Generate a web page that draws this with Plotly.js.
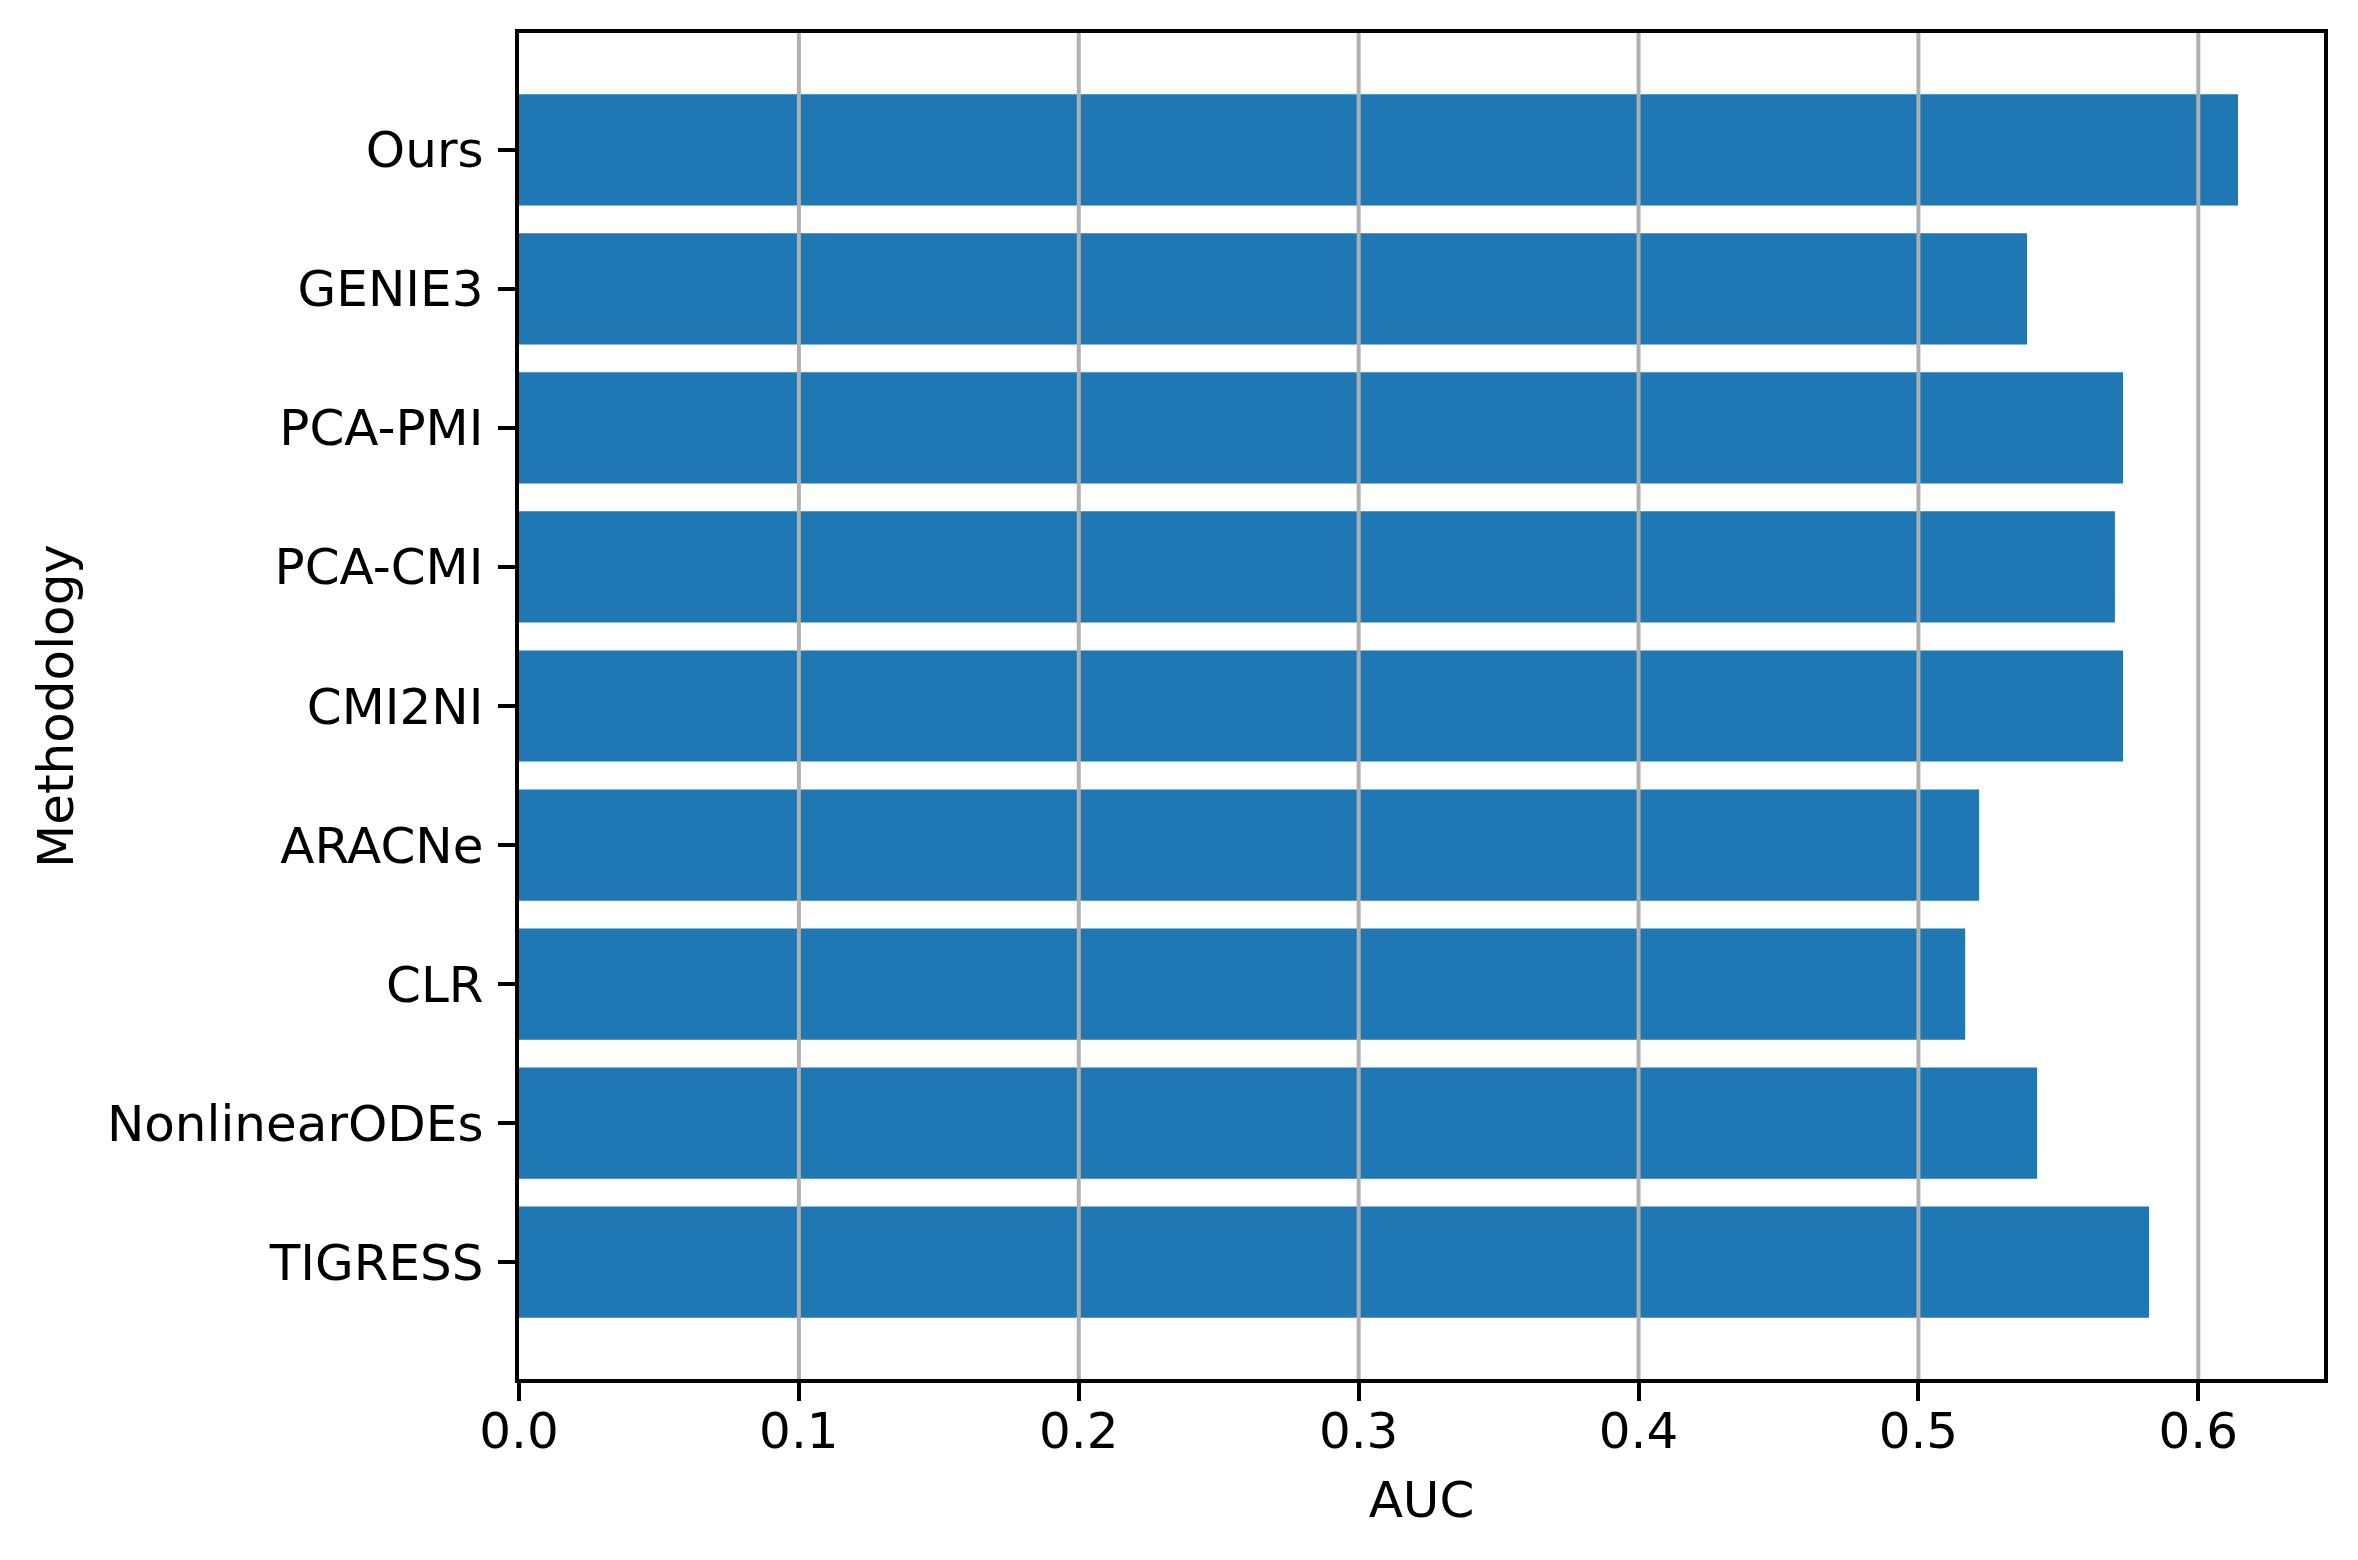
<!DOCTYPE html>
<html>
<head>
<meta charset="utf-8">
<script src="https://cdn.plot.ly/plotly-3.0.1.min.js"></script>
<style>html,body{margin:0;padding:0;background:#fff;}#chart{width:2358px;height:1560px;}</style>
</head>
<body>
<div id="chart"></div>
<script>
const methods = ["Ours", "GENIE3", "PCA-PMI", "PCA-CMI", "CMI2NI", "ARACNe", "CLR", "NonlinearODEs", "TIGRESS"];
const auc = [0.6142, 0.5388, 0.5731, 0.5702, 0.5731, 0.5217, 0.5167, 0.5424, 0.5824];
const xTicks = [0.0, 0.1, 0.2, 0.3, 0.4, 0.5, 0.6];
const xTickText = ["0.0", "0.1", "0.2", "0.3", "0.4", "0.5", "0.6"];

const font = {family: "DejaVu Sans, sans-serif", size: 50, color: "#000"};
const xmax = Math.max(...auc) * 1.05;
const n = methods.length;
const pad = (n - 1 + 0.8) * 0.05;

const gridShapes = xTicks.filter(v => v > 0).map(v => ({
  type: "line", xref: "x", yref: "paper", x0: v, x1: v, y0: 0, y1: 1,
  line: {color: "#b0b0b0", width: 4}, layer: "above"
}));

const trace = {
  type: "bar", orientation: "h",
  y: methods, x: auc,
  marker: {color: "#1f77b4", line: {width: 0}},
  hoverinfo: "skip"
};

const layout = {
  width: 2358, height: 1560,
  margin: {l: 519, r: 34, t: 33, b: 181, pad: 0},
  paper_bgcolor: "#fff", plot_bgcolor: "#fff",
  font: font,
  bargap: 0.2,
  showlegend: false,
  shapes: gridShapes,
  xaxis: {
    range: [0, xmax],
    tickmode: "array", tickvals: xTicks, ticktext: xTickText,
    showgrid: false, zeroline: false,
    showline: true, mirror: true, linecolor: "#000", linewidth: 4,
    ticks: "outside", ticklen: 17.5, tickwidth: 4, tickcolor: "#000",
    tickfont: font,
    ticklabelstandoff: -13,
    layer: "above traces",
    title: {text: "AUC", font: font, standoff: 24}
  },
  yaxis: {
    type: "category",
    categoryorder: "array", categoryarray: methods,
    range: [n - 1 + 0.4 + pad, -0.4 - pad],
    showgrid: false, zeroline: false,
    showline: true, mirror: true, linecolor: "#000", linewidth: 4,
    ticks: "outside", ticklen: 17.5, tickwidth: 4, tickcolor: "#000",
    tickfont: font,
    ticklabelstandoff: 4,
    layer: "above traces",
    title: {text: "Methodology", font: font, standoff: 18}
  }
};

Plotly.newPlot("chart", [trace], layout, {displayModeBar: false, staticPlot: true});
</script>
</body>
</html>
